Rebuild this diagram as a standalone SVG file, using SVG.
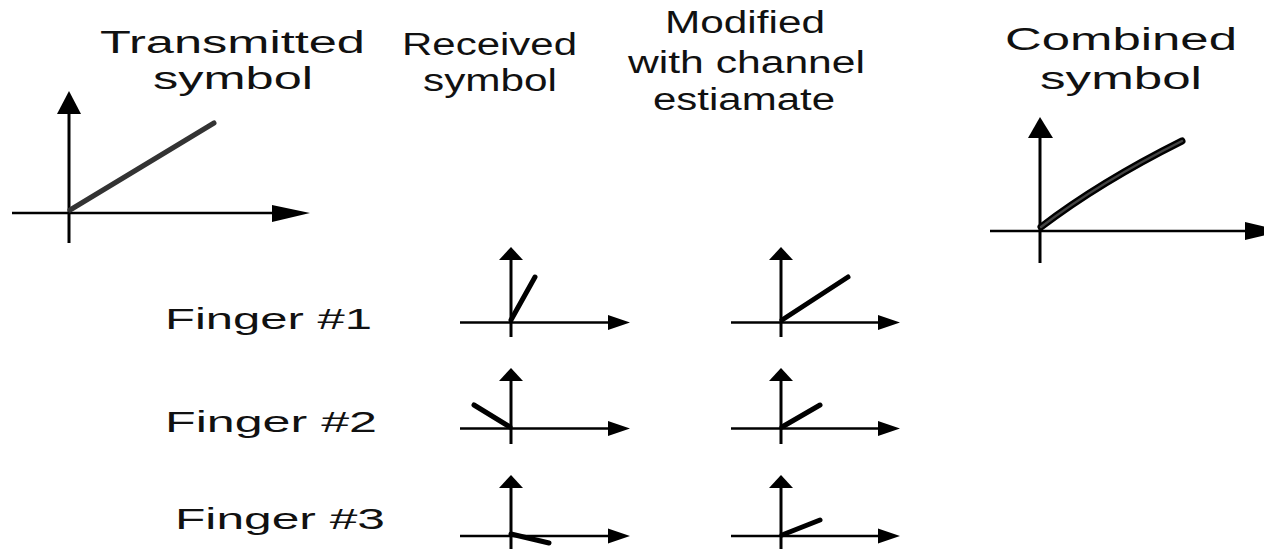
<svg xmlns="http://www.w3.org/2000/svg" width="1264" height="549" viewBox="0 0 1264 549">
<style>
.t{font-family:"Liberation Sans",Arial,sans-serif;font-size:31px;fill:#111}
.f{font-family:"Liberation Sans",Arial,sans-serif;font-size:30px;fill:#111}
.ax{stroke:#000;stroke-width:3;fill:none}
.ah{stroke:#000;stroke-width:2.5;fill:none}
.hd{fill:#000}
.v{stroke:#000;stroke-width:5;fill:none;stroke-linecap:round}
</style>
<rect width="1264" height="549" fill="#fff"/>
<g id="labels">
<text class="t" x="100" y="53" textLength="265" lengthAdjust="spacingAndGlyphs">Transmitted</text>
<text class="t" x="153" y="89" textLength="160" lengthAdjust="spacingAndGlyphs">symbol</text>
<text class="t" x="402" y="55" textLength="175" lengthAdjust="spacingAndGlyphs">Received</text>
<text class="t" x="423" y="91" textLength="134" lengthAdjust="spacingAndGlyphs">symbol</text>
<text class="t" x="665" y="33" textLength="160" lengthAdjust="spacingAndGlyphs">Modified</text>
<text class="t" x="628" y="73" textLength="237" lengthAdjust="spacingAndGlyphs">with channel</text>
<text class="t" x="653" y="110" textLength="182" lengthAdjust="spacingAndGlyphs">estiamate</text>
<text class="t" x="1005" y="50" textLength="232" lengthAdjust="spacingAndGlyphs">Combined</text>
<text class="t" x="1040" y="89" textLength="162" lengthAdjust="spacingAndGlyphs">symbol</text>
<text class="f" x="165" y="329" textLength="207" lengthAdjust="spacingAndGlyphs">Finger #1</text>
<text class="f" x="165" y="432" textLength="212" lengthAdjust="spacingAndGlyphs">Finger #2</text>
<text class="f" x="175" y="529" textLength="210" lengthAdjust="spacingAndGlyphs">Finger #3</text>
</g>
<g id="transmitted">
<line class="ax" x1="69" y1="112" x2="69" y2="243"/>
<polygon class="hd" points="69,91 57,114 81,114"/>
<line class="ah" x1="12" y1="213" x2="274" y2="213"/>
<polygon class="hd" points="310,213 272,205 272,222"/>
<line x1="70" y1="210" x2="214" y2="123" stroke="#333" stroke-width="5" stroke-linecap="round"/>
</g>
<g id="combined">
<line class="ax" x1="1040" y1="136" x2="1040" y2="263"/>
<polygon class="hd" points="1040,117 1028,138 1053,138"/>
<line class="ah" x1="990" y1="231" x2="1247" y2="231"/>
<polygon class="hd" points="1283,231 1245,222 1245,240"/>
<path d="M1041,227 Q1100,182 1182,141" stroke="#000" stroke-width="7" fill="none" stroke-linecap="round"/>
<path d="M1041,227 Q1100,182 1182,141" stroke="#444" stroke-width="2.5" fill="none" stroke-linecap="round"/>
</g>
<g id="received-1">
<line class="ax" x1="511" y1="259" x2="511" y2="337"/>
<polygon class="hd" points="511,247 499,260 523,260"/>
<line class="ah" x1="460" y1="322.5" x2="610" y2="322.5"/>
<polygon class="hd" points="630,322.5 608,315 608,330"/>
<line class="v" x1="511" y1="320" x2="535" y2="277"/>
</g>
<g id="modified-1">
<line class="ax" x1="781" y1="259" x2="781" y2="337"/>
<polygon class="hd" points="781,247 769,260 793,260"/>
<line class="ah" x1="731" y1="322.5" x2="880" y2="322.5"/>
<polygon class="hd" points="900,322.5 878,315 878,330"/>
<line class="v" x1="782" y1="320" x2="848" y2="277"/>
</g>
<g id="received-2">
<line class="ax" x1="511" y1="380" x2="511" y2="444"/>
<polygon class="hd" points="511,368 499,381 523,381"/>
<line class="ah" x1="460" y1="428.5" x2="610" y2="428.5"/>
<polygon class="hd" points="630,428.5 608,421 608,436"/>
<line class="v" x1="510" y1="427" x2="474" y2="405"/>
</g>
<g id="modified-2">
<line class="ax" x1="781" y1="380" x2="781" y2="444"/>
<polygon class="hd" points="781,368 769,381 793,381"/>
<line class="ah" x1="731" y1="428.5" x2="880" y2="428.5"/>
<polygon class="hd" points="900,428.5 878,421 878,436"/>
<line class="v" x1="782" y1="427" x2="820" y2="405"/>
</g>
<g id="received-3">
<line class="ax" x1="511" y1="487" x2="511" y2="549"/>
<polygon class="hd" points="511,475 499,488 523,488"/>
<line class="ah" x1="460" y1="536" x2="610" y2="536"/>
<polygon class="hd" points="630,536 608,528.5 608,543.5"/>
<line class="v" x1="511" y1="534" x2="549" y2="543"/>
</g>
<g id="modified-3">
<line class="ax" x1="781" y1="487" x2="781" y2="549"/>
<polygon class="hd" points="781,475 769,488 793,488"/>
<line class="ah" x1="731" y1="536" x2="880" y2="536"/>
<polygon class="hd" points="900,536 878,528.5 878,543.5"/>
<line class="v" x1="782" y1="535" x2="820" y2="520"/>
</g>
<g id="connectors"></g>
</svg>
